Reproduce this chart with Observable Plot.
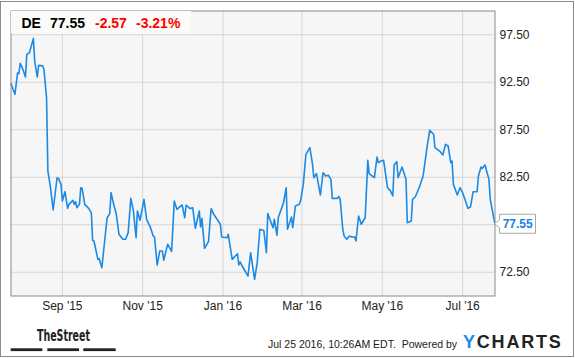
<!DOCTYPE html>
<html><head><meta charset="utf-8">
<script src="https://cdn.jsdelivr.net/npm/d3@7"></script>
<script src="https://cdn.jsdelivr.net/npm/@observablehq/plot@0.6"></script>
<style>
html,body{margin:0;padding:0;background:#fff;}
#wrap{position:relative;width:575px;height:358px;overflow:hidden;}
#wrap svg{position:absolute;left:0;top:0;}
#border{position:absolute;left:0;top:1px;width:572px;height:354px;border:1px solid #8c8c8c;pointer-events:none;}
</style></head><body><div id="wrap"><div id="border"></div></div>
<script>
const dates = [
"2015-07-24","2015-07-27","2015-07-29","2015-07-30","2015-07-31","2015-08-02","2015-08-04","2015-08-05","2015-08-07","2015-08-10",
"2015-08-11","2015-08-13","2015-08-14","2015-08-17","2015-08-18","2015-08-20","2015-08-21","2015-08-23","2015-08-25","2015-08-28",
"2015-08-29","2015-08-31","2015-09-01","2015-09-03","2015-09-05","2015-09-06","2015-09-09","2015-09-10","2015-09-11","2015-09-12",
"2015-09-14","2015-09-15","2015-09-16","2015-09-18","2015-09-21","2015-09-23","2015-09-24","2015-09-25","2015-09-28","2015-09-29",
"2015-10-01","2015-10-05","2015-10-07","2015-10-08","2015-10-10","2015-10-12","2015-10-14","2015-10-16","2015-10-17","2015-10-19",
"2015-10-21","2015-10-23","2015-10-25","2015-10-27","2015-10-28","2015-10-30","2015-11-02","2015-11-04","2015-11-07","2015-11-09",
"2015-11-10","2015-11-12","2015-11-14","2015-11-16","2015-11-17","2015-11-20","2015-11-23","2015-11-25","2015-11-27","2015-12-01",
"2015-12-03","2015-12-04","2015-12-07","2015-12-09","2015-12-11","2015-12-14","2015-12-15","2015-12-16","2015-12-18","2015-12-21",
"2015-12-23","2015-12-25","2015-12-30","2015-12-31","2016-01-04","2016-01-05","2016-01-08","2016-01-12","2016-01-13","2016-01-14",
"2016-01-16","2016-01-20","2016-01-22","2016-01-25","2016-01-27","2016-01-29","2016-02-01","2016-02-03","2016-02-04","2016-02-08",
"2016-02-09","2016-02-11","2016-02-12","2016-02-16","2016-02-18","2016-02-19","2016-02-22","2016-02-23","2016-02-25","2016-02-28",
"2016-02-29","2016-03-02","2016-03-04","2016-03-07","2016-03-09","2016-03-10","2016-03-12","2016-03-15","2016-03-17","2016-03-19",
"2016-03-21","2016-03-23","2016-03-24","2016-03-28","2016-03-29","2016-03-30","2016-04-01","2016-04-02","2016-04-04","2016-04-06",
"2016-04-08","2016-04-10","2016-04-11","2016-04-13","2016-04-15","2016-04-18","2016-04-20","2016-04-21","2016-04-25","2016-04-27",
"2016-04-28","2016-04-30","2016-05-02","2016-05-05","2016-05-07","2016-05-09","2016-05-10","2016-05-12","2016-05-13","2016-05-16",
"2016-05-19","2016-05-20","2016-05-23","2016-05-24","2016-05-26","2016-05-29","2016-06-01","2016-06-04","2016-06-06","2016-06-09",
"2016-06-10","2016-06-14","2016-06-16","2016-06-18","2016-06-20","2016-06-22","2016-06-23","2016-06-24","2016-06-27","2016-06-29",
"2016-07-01","2016-07-03","2016-07-05","2016-07-07","2016-07-09","2016-07-12","2016-07-13","2016-07-15","2016-07-16","2016-07-18",
"2016-07-21","2016-07-22","2016-07-25T14:26"
];
const prices = [
92.35,91.23,93.5,93.4,94.5,93.86,93.05,95.44,95.6,97.12,
94.7,93.05,94.28,94.24,93.86,90.88,83.16,81.4,79.05,82.45,
82.38,81.75,80.0,80.98,79.23,79.65,80.07,79.65,79.93,79.3,
79.65,81.4,81.34,79.65,79.23,78.77,75.86,75.79,73.86,73.93,
72.98,78.24,78.67,80.88,79.65,78.6,76.5,76.14,75.97,75.97,
76.67,80.28,78.95,76.14,78.95,77.97,80.18,78.07,77.19,76.32,
76.21,73.26,74.74,74.74,73.76,75.44,74.7,80.0,79.12,79.58,
78.24,79.58,79.2,79.3,77.13,78.95,77.26,78.17,75.02,75.72,
79.2,78.6,77.55,76.21,76.14,76.5,73.86,74.45,73.26,73.6,
73.05,72.1,74.56,71.75,73.51,77.02,76.9,74.56,78.67,77.19,
78.07,76.39,78.24,79.83,81.4,77.02,78.32,77.19,79.47,79.65,
80.07,81.75,84.91,85.61,83.86,82.45,82.88,80.63,82.98,82.63,
82.71,82.28,80.28,80.28,80.49,80.18,77.02,76.32,75.97,76.32,
76.21,76.21,75.79,78.42,77.55,78.24,84.28,82.88,82.45,84.63,
84.04,84.21,84.28,81.4,81.12,80.53,83.79,84.14,82.45,83.58,
82.28,77.72,77.9,80.18,80.42,81.4,82.63,85.68,87.44,87.02,
85.61,85.19,84.84,85.96,85.79,84.04,84.21,81.75,80.63,81.4,
80.88,80.07,79.23,79.37,80.98,80.98,82.63,83.58,83.44,83.79,
82.28,80.18,77.55
];
const xTickDates = ["2015-09-01","2015-11-01","2016-01-01","2016-03-01","2016-05-01","2016-07-01"];
const xTickLabels = ["Sep '15","Nov '15","Jan '16","Mar '16","May '16","Jul '16"];
const yTicks = [72.5, 77.5, 82.5, 87.5, 92.5, 97.5];
const ticker = "DE";
const lastPrice = "77.55";
const change = "-2.57";
const changePct = "-3.21%";
const stamp = "Jul 25 2016, 10:26AM EDT.  Powered by";

const parse = s => new Date(s.length > 10 ? s + "Z" : s);
const data = dates.map((d, i) => ({date: parse(d), price: prices[i]}));
const xt = xTickDates.map(parse);
const last = data[data.length - 1];
// the axis label hidden behind the last-value callout in the reference
const yLabelTicks = yTicks.filter(v => Math.abs(v - last.price) > 1);
const FONT = '"Liberation Sans", Arial, sans-serif';

const chart = Plot.plot({
  width: 575, height: 358,
  marginLeft: 10.5, marginTop: 10.5, marginRight: 80.5, marginBottom: 62.5,
  style: {fontFamily: FONT, fontSize: "12px", color: "#222", background: "transparent", overflow: "visible"},
  x: {type: "utc", domain: [data[0].date, last.date], label: null},
  y: {domain: [70, 100], label: null},
  marks: [
    Plot.frame({fill: "#f6f6f6", stroke: null}),
    Plot.gridX(xt, {stroke: "#d6d6d6", strokeOpacity: 1}),
    Plot.gridY(yTicks, {stroke: "#d6d6d6", strokeOpacity: 1}),
    Plot.line(data, {x: "date", y: "price", stroke: "#1a8ae6", strokeWidth: 1.6}),
    Plot.frame({stroke: "#8a8a8a", strokeWidth: 1}),
    Plot.axisX(xt, {tickSize: 0, tickPadding: 5, label: null, fill: "#222",
      tickFormat: d => xTickLabels[xt.findIndex(t => +t === +d)]}),
    Plot.axisY(yLabelTicks, {anchor: "right", tickSize: 0, tickPadding: 4.5, label: null, fill: "#222",
      tickFormat: d => d.toFixed(2)})
  ]
});
document.getElementById("wrap").insertBefore(chart, document.getElementById("border"));

const svg = d3.select(chart);
// header box
const g = svg.append("g").attr("font-family", FONT).attr("font-weight", "bold").attr("font-size", 14).attr("text-anchor", "start");
g.append("rect").attr("x", 11).attr("y", 11).attr("width", 180).attr("height", 22.5).attr("fill", "#fbfbf9");
g.append("text").attr("x", 21.5).attr("y", 28.3).attr("fill", "#000").text(ticker);
g.append("text").attr("x", 50).attr("y", 28.3).attr("fill", "#000").text(lastPrice);
g.append("text").attr("x", 95).attr("y", 28.3).attr("fill", "#f00").text(change);
g.append("text").attr("x", 136).attr("y", 28.3).attr("fill", "#f00").text(changePct);

// last value callout
const tx = chart.scale("x").apply(last.date), ty = chart.scale("y").apply(last.price);
const bx = tx + 5, bw = 36, bh = 19;
svg.append("path")
  .attr("d", `M${tx},${ty} L${bx},${ty - 4} L${bx},${ty - bh / 2} L${bx + bw},${ty - bh / 2} L${bx + bw},${ty + bh / 2} L${bx},${ty + bh / 2} L${bx},${ty + 4} Z`)
  .attr("fill", "#fff").attr("stroke", "#a8a8a8").attr("stroke-width", 1);
svg.append("text").attr("x", bx + 3.2).attr("y", ty).attr("dy", "0.36em").attr("text-anchor", "start")
  .attr("font-family", FONT).attr("font-weight", "bold").attr("font-size", 12).attr("fill", "#1a7fe0").text(last.price.toFixed(2));

// footer
const f = svg.append("g").attr("font-family", FONT).attr("text-anchor", "start");
f.append("text").attr("x", 37).attr("y", 340.7).attr("font-family", '"Liberation Sans Narrow", "DejaVu Sans Condensed", "Liberation Sans", sans-serif')
  .attr("font-weight", "bold").attr("font-size", 15).attr("fill", "#222")
  .attr("textLength", 53).attr("lengthAdjust", "spacingAndGlyphs").text("TheStreet");
[[10.7, 42.3], [47.3, 79], [83.3, 115.7]].forEach(([a, b]) =>
  f.append("rect").attr("x", a).attr("y", 348.3).attr("width", b - a).attr("height", 2.8).attr("fill", "#222"));
f.append("text").attr("x", 268).attr("y", 347.5).attr("font-size", 10.5).attr("fill", "#222")
  .style("white-space", "pre").text(stamp);
const yc = f.append("text").attr("x", 463).attr("y", 347.7).attr("font-size", 18).attr("font-weight", "bold").attr("letter-spacing", 1.8);
yc.append("tspan").attr("fill", "#1a8ee8").text("Y");
yc.append("tspan").attr("fill", "#222").text("CHARTS");
</script></body></html>
